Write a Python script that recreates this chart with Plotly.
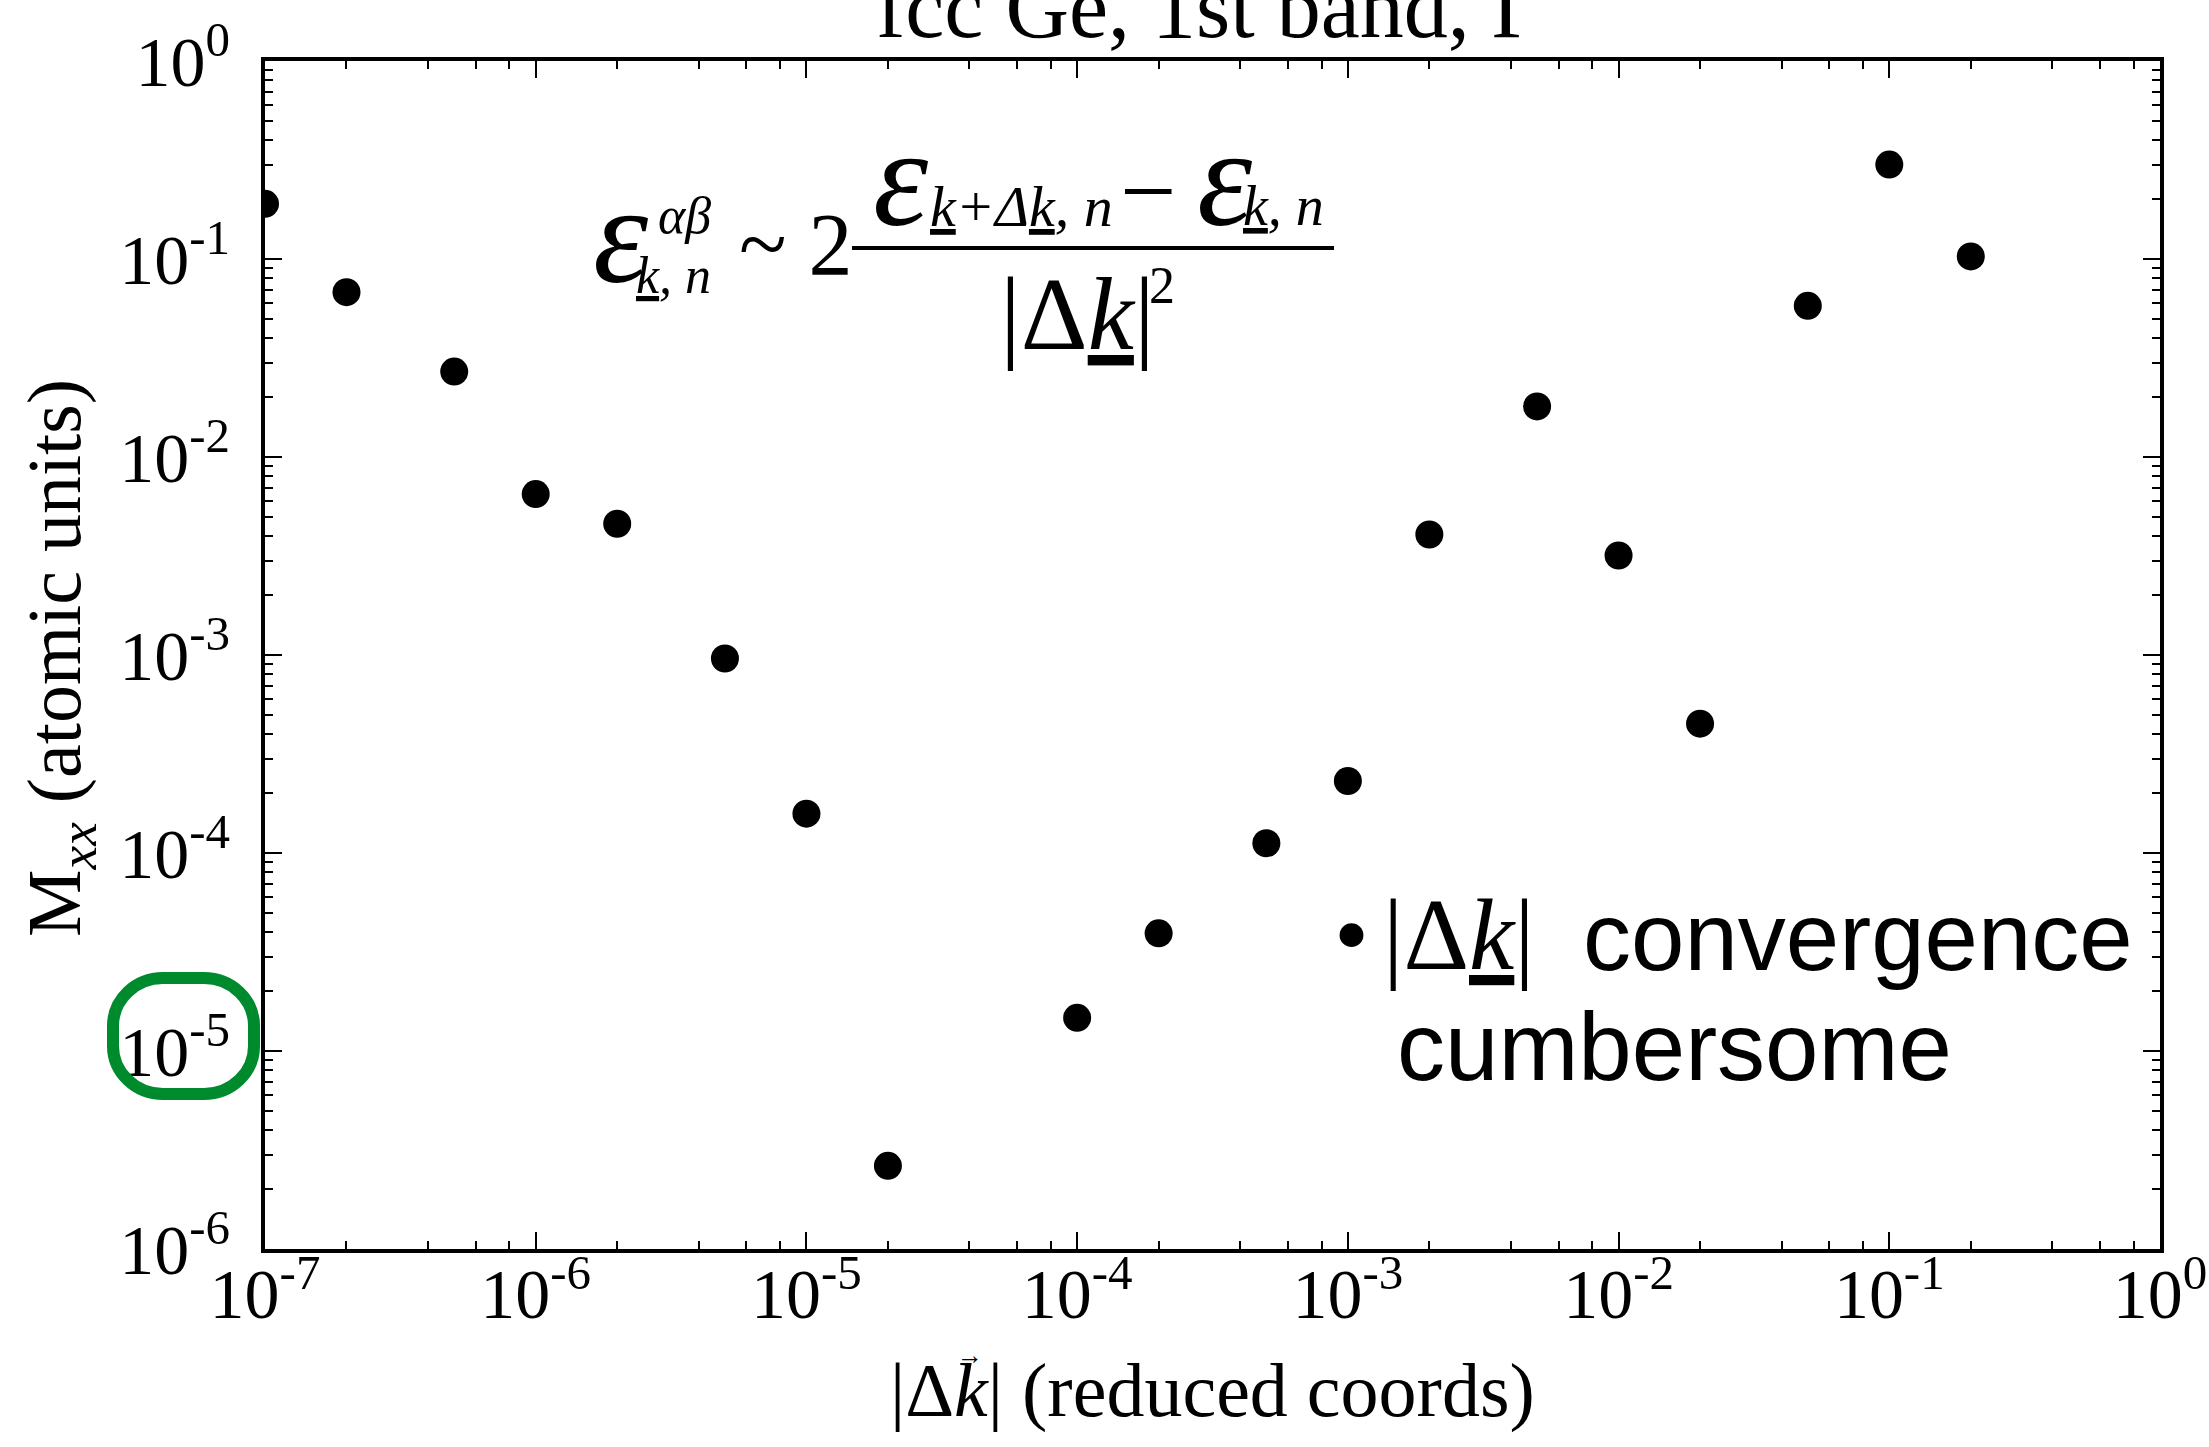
import plotly.graph_objects as go

# ---------------- data ----------------
dk = [1e-7, 2e-7, 5e-7, 1e-6, 2e-6, 5e-6, 1e-5, 2e-5, 1e-4, 2e-4,
      5e-4, 1e-3, 2e-3, 5e-3, 1e-2, 2e-2, 5e-2, 1e-1, 2e-1]
mxx = [0.19, 0.068, 0.027, 0.0065, 0.0046, 9.6e-4, 1.58e-4, 2.63e-6, 1.47e-5, 3.93e-5,
       1.12e-4, 2.31e-4, 4.06e-3, 0.018, 3.18e-3, 4.5e-4, 0.058, 0.30, 0.103]

x_tickvals = [1e-7, 1e-6, 1e-5, 1e-4, 1e-3, 1e-2, 1e-1, 1e0]
x_ticktext = ["10<sup>-7</sup>", "10<sup>-6</sup>", "10<sup>-5</sup>", "10<sup>-4</sup>",
              "10<sup>-3</sup>", "10<sup>-2</sup>", "10<sup>-1</sup>", "10<sup>0</sup>"]
y_tickvals = [1e-6, 1e-5, 1e-4, 1e-3, 1e-2, 1e-1, 1e0]
y_ticktext = ["10<sup>-6</sup>", "10<sup>-5</sup>", "10<sup>-4</sup>", "10<sup>-3</sup>",
              "10<sup>-2</sup>", "10<sup>-1</sup>", "10<sup>0</sup>"]

title_text = "fcc Ge, 1st band, Γ"
xlabel_text = "|Δ<i>k</i>| (reduced coords)"
ylabel_text = "M<sub><i>xx</i></sub> (atomic units)"

SERIF = "Liberation Serif"
SANS = "Liberation Sans"

W, H = 2209, 1447
L, R, T, B = 265, 2160, 61, 1249


def px(x):
    return (x - L) / (R - L)


def py(y):
    return (B - y) / (B - T)


def ann(text, x, y, size, family=SERIF, xanchor="center", yanchor="middle", angle=0):
    return dict(text=text, x=px(x), y=py(y), xref="paper", yref="paper",
                showarrow=False, textangle=angle,
                font=dict(family=family, size=size, color="black"),
                xanchor=xanchor, yanchor=yanchor)


def minor_vals(lo, hi, mults):
    return [m * 10.0 ** e for e in range(lo, hi) for m in mults]


fig = go.Figure()
fig.add_trace(go.Scatter(x=dk, y=mxx, mode="markers",
                         marker=dict(color="black", size=28), showlegend=False))

axis_common = dict(
    type="log", showgrid=False, zeroline=False,
    showline=True, linecolor="black", linewidth=4, mirror="ticks",
    ticks="inside", ticklen=17, tickwidth=2, tickcolor="black",
    tickmode="array",
    tickfont=dict(family=SERIF, size=70, color="black"),
)

fig.update_xaxes(**axis_common, range=[-7, 0], tickvals=x_tickvals, ticktext=x_ticktext,
                 ticklabelstandoff=-19,
                 minor=dict(tickmode="array", tickvals=minor_vals(-7, 0, [2, 4, 6, 8]),
                            ticks="inside", ticklen=8, tickwidth=1.5, tickcolor="black",
                            showgrid=False))
fig.update_yaxes(**axis_common, range=[-6, 0], tickvals=y_tickvals, ticktext=y_ticktext,
                 ticklabelstandoff=17,
                 minor=dict(tickmode="array", tickvals=minor_vals(-6, 0, range(2, 10)),
                            ticks="inside", ticklen=8, tickwidth=1.5, tickcolor="black",
                            showgrid=False))

annotations = [
    # title (clipped at top like the reference)
    ann(title_text, 1209, 7, 88),
    # axis titles
    ann(xlabel_text, 1212, 1390, 76),
    ann("→", 970, 1356, 26),
    ann(ylabel_text, 60, 658, 76, angle=-90),
    # formula
    ann("<i>ε</i>", 621, 234, 140),
    ann("<i>αβ</i>", 684, 215, 52),
    ann("<i><u>k</u>, n</i>", 673, 275, 52),
    ann("~ 2", 796, 245, 88),
    ann("<i>ε</i>", 901, 177, 140),
    ann("<i><u>k</u>+Δ<u>k</u>, n</i>", 1021, 206, 58),
    ann("−", 1148, 191, 100),
    ann("<i>ε</i>", 1225, 177, 140),
    ann("<i><u>k</u>, n</i>", 1283, 206, 56),
    ann("|Δ<i><u>k</u></i>|", 1077, 313, 104),
    ann("2", 1162, 285, 52),
    # bullet text
    ann("•", 1351, 934, 100),
    ann("|Δ<i><u>k</u></i>|", 1459, 934, 102),
    ann("convergence", 1581, 936, 96, family=SANS, xanchor="left"),
    ann("cumbersome", 1395, 1046, 96, family=SANS, xanchor="left"),
]


def rrect_path(x0, y0, x1, y1, rx, ry):
    k = 0.5523
    P = lambda x, y: f"{px(x):.5f},{py(y):.5f}"
    return (f"M {P(x0 + rx, y0)} L {P(x1 - rx, y0)} "
            f"C {P(x1 - rx + k * rx, y0)} {P(x1, y0 + ry - k * ry)} {P(x1, y0 + ry)} "
            f"L {P(x1, y1 - ry)} "
            f"C {P(x1, y1 - ry + k * ry)} {P(x1 - rx + k * rx, y1)} {P(x1 - rx, y1)} "
            f"L {P(x0 + rx, y1)} "
            f"C {P(x0 + rx - k * rx, y1)} {P(x0, y1 - ry + k * ry)} {P(x0, y1 - ry)} "
            f"L {P(x0, y0 + ry)} "
            f"C {P(x0, y0 + ry - k * ry)} {P(x0 + rx - k * rx, y0)} {P(x0 + rx, y0)} Z")


shapes = [
    dict(type="line", xref="paper", yref="paper", x0=px(852), x1=px(1334),
         y0=py(248), y1=py(248), line=dict(color="black", width=4)),
    dict(type="path", xref="paper", yref="paper", path=rrect_path(113, 978, 254, 1094, 50, 48),
         line=dict(color="#008A2E", width=12), layer="above"),
]

fig.update_layout(
    width=W, height=H, autosize=False,
    margin=dict(l=L, r=W - R, t=T, b=H - B, pad=0, autoexpand=False),
    plot_bgcolor="white", paper_bgcolor="white",
    annotations=annotations, shapes=shapes, showlegend=False,
)

fig.write_html("out.html")
